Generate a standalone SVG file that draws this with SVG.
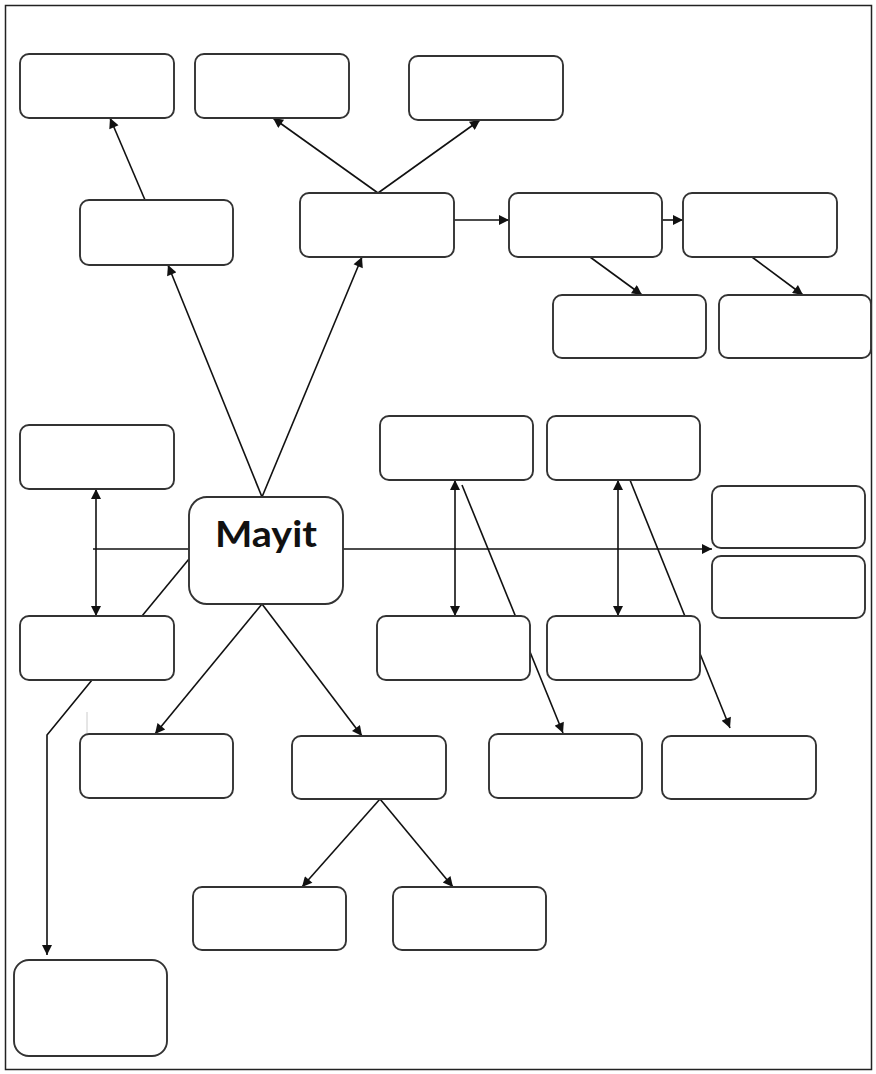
<svg xmlns="http://www.w3.org/2000/svg" width="876" height="1074" viewBox="0 0 876 1074">
<style>
.n{fill:#fff;stroke:#333;stroke-width:1.9}
.c{fill:none;stroke:#111;stroke-width:1.6}
.t{font-family:Lato,"Open Sans",sans-serif;font-weight:bold;font-size:37px;fill:#111}
</style>
<defs>
<marker id="ah" viewBox="0 0 10 10" refX="10" refY="5" markerWidth="12" markerHeight="10" markerUnits="userSpaceOnUse" orient="auto-start-reverse"><path d="M0,0 L10,5 L0,10 z" fill="#111"/></marker>
</defs>
<rect x="5.5" y="5.5" width="866" height="1064" fill="#fff" stroke="#222" stroke-width="1.5"/>
<g id="connectors">
<line class="c" x1="262" y1="497" x2="168" y2="265" marker-end="url(#ah)"/>
<line class="c" x1="262" y1="497" x2="362" y2="257" marker-end="url(#ah)"/>
<line class="c" x1="145" y1="200" x2="110" y2="118" marker-end="url(#ah)"/>
<line class="c" x1="378" y1="193" x2="273" y2="118" marker-end="url(#ah)"/>
<line class="c" x1="378" y1="193" x2="480" y2="120" marker-end="url(#ah)"/>
<line class="c" x1="454" y1="220" x2="509" y2="220" marker-end="url(#ah)"/>
<line class="c" x1="662" y1="220" x2="683" y2="220" marker-end="url(#ah)"/>
<line class="c" x1="590" y1="257" x2="642" y2="295" marker-end="url(#ah)"/>
<line class="c" x1="752" y1="257" x2="803" y2="295" marker-end="url(#ah)"/>
<line class="c" x1="93" y1="549" x2="190" y2="549"/>
<line class="c" x1="343" y1="549" x2="712" y2="549" marker-end="url(#ah)"/>
<line class="c" x1="96" y1="489" x2="96" y2="616" marker-start="url(#ah)" marker-end="url(#ah)"/>
<line class="c" x1="189" y1="559" x2="142" y2="616"/>
<polyline class="c" points="92,680 47,735 47,955" marker-end="url(#ah)"/>
<line x1="87" y1="712" x2="87" y2="734" stroke="#ccc" stroke-width="1"/>
<line class="c" x1="455" y1="480" x2="455" y2="616" marker-start="url(#ah)" marker-end="url(#ah)"/>
<line class="c" x1="462" y1="485" x2="563" y2="733" marker-end="url(#ah)"/>
<line class="c" x1="618" y1="480" x2="618" y2="616" marker-start="url(#ah)" marker-end="url(#ah)"/>
<line class="c" x1="630" y1="480" x2="730" y2="728" marker-end="url(#ah)"/>
<line class="c" x1="262" y1="604" x2="155" y2="734" marker-end="url(#ah)"/>
<line class="c" x1="262" y1="604" x2="362" y2="736" marker-end="url(#ah)"/>
<line class="c" x1="380" y1="799" x2="302" y2="887" marker-end="url(#ah)"/>
<line class="c" x1="380" y1="799" x2="453" y2="887" marker-end="url(#ah)"/>
</g>
<g id="a1"><rect class="n" x="20" y="54" width="154" height="64" rx="9"/></g>
<g id="a2"><rect class="n" x="195" y="54" width="154" height="64" rx="9"/></g>
<g id="a3"><rect class="n" x="409" y="56" width="154" height="64" rx="9"/></g>
<g id="b1"><rect class="n" x="80" y="200" width="153" height="65" rx="9"/></g>
<g id="b2"><rect class="n" x="300" y="193" width="154" height="64" rx="9"/></g>
<g id="b3"><rect class="n" x="509" y="193" width="153" height="64" rx="9"/></g>
<g id="b4"><rect class="n" x="683" y="193" width="154" height="64" rx="9"/></g>
<g id="c1"><rect class="n" x="553" y="295" width="153" height="63" rx="9"/></g>
<g id="c2"><rect class="n" x="719" y="295" width="152" height="63" rx="9"/></g>
<g id="d1"><rect class="n" x="20" y="425" width="154" height="64" rx="9"/></g>
<g id="mayit"><rect class="n" x="189" y="497" width="154" height="107" rx="18"/><text class="t" x="215" y="547" textLength="102" lengthAdjust="spacingAndGlyphs">Mayit</text></g>
<g id="d2"><rect class="n" x="20" y="616" width="154" height="64" rx="9"/></g>
<g id="e1"><rect class="n" x="380" y="416" width="153" height="64" rx="9"/></g>
<g id="e2"><rect class="n" x="547" y="416" width="153" height="64" rx="9"/></g>
<g id="f1"><rect class="n" x="712" y="486" width="153" height="62" rx="9"/></g>
<g id="f2"><rect class="n" x="712" y="556" width="153" height="62" rx="9"/></g>
<g id="g1"><rect class="n" x="377" y="616" width="153" height="64" rx="9"/></g>
<g id="g2"><rect class="n" x="547" y="616" width="153" height="64" rx="9"/></g>
<g id="h1"><rect class="n" x="80" y="734" width="153" height="64" rx="9"/></g>
<g id="h2"><rect class="n" x="292" y="736" width="154" height="63" rx="9"/></g>
<g id="h3"><rect class="n" x="489" y="734" width="153" height="64" rx="9"/></g>
<g id="h4"><rect class="n" x="662" y="736" width="154" height="63" rx="9"/></g>
<g id="i1"><rect class="n" x="193" y="887" width="153" height="63" rx="9"/></g>
<g id="i2"><rect class="n" x="393" y="887" width="153" height="63" rx="9"/></g>
<g id="j"><rect class="n" x="14" y="960" width="153" height="96" rx="15"/></g>
</svg>
